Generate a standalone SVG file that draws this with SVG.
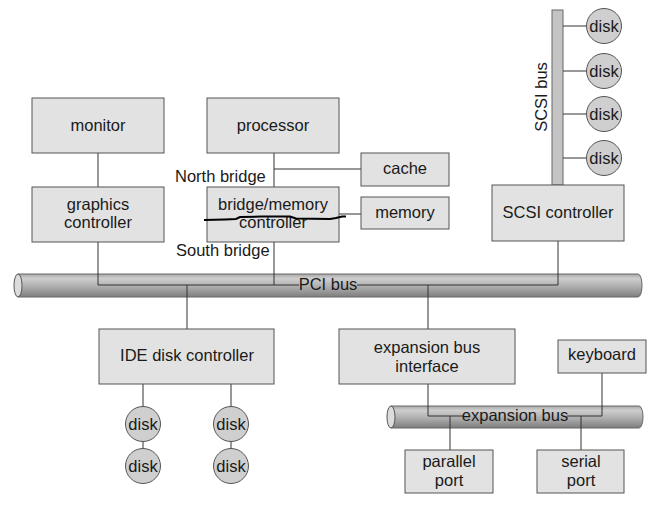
<svg xmlns="http://www.w3.org/2000/svg" width="664" height="508" viewBox="0 0 664 508">
<defs>
<linearGradient id="busg" x1="0" y1="0" x2="0" y2="1">
<stop offset="0" stop-color="#a8a8a8"/>
<stop offset="0.2" stop-color="#cecece"/>
<stop offset="0.6" stop-color="#a9a9a9"/>
<stop offset="1" stop-color="#7e7e7e"/>
</linearGradient>
<style>
.box{fill:#e2e2e2;stroke:#555;stroke-width:1}
.disk{fill:#cfcfcf;stroke:#555;stroke-width:1}
.t{font-family:"Liberation Sans",Arial,sans-serif;font-size:16.5px;fill:#1a1a1a;text-anchor:middle}
.tl{font-family:"Liberation Sans",Arial,sans-serif;font-size:16.5px;fill:#1a1a1a}
.ln{fill:none;stroke:#333;stroke-width:1}
.bus{fill:url(#busg);stroke:#666;stroke-width:1}
.busend{fill:#dcdcdc;stroke:#555;stroke-width:1}
</style>
</defs>
<rect width="664" height="508" fill="#fff"/>

<g id="pci-bus">
<path class="bus" d="M18,274 H638 A4,11.5 0 0 1 638,297 H18 Z"/>
<ellipse class="busend" cx="18" cy="285.5" rx="4" ry="11.5"/>
</g>
<g id="expansion-bus">
<path class="bus" d="M391,406 H639 A4,11 0 0 1 639,428 H391 Z"/>
<ellipse class="busend" cx="391" cy="417" rx="4" ry="11"/>
</g>
<g id="scsi-bus">
<rect x="552" y="10" width="11" height="175" fill="#c4c4c4" stroke="#666" stroke-width="1"/>
<text class="t" transform="translate(547,97) rotate(-90)">SCSI bus</text>
</g>

<g id="connectors">
<path class="ln" d="M98,153 V187"/>
<path class="ln" d="M274,153 V187"/>
<path class="ln" d="M274,169 H361"/>
<path class="ln" d="M339,214 H361"/>
<path class="ln" d="M98,242 V285 H299"/>
<path class="ln" d="M357,285 H558 V241"/>
<path class="ln" d="M274,242 V285"/>
<path class="ln" d="M187,285 V329"/>
<path class="ln" d="M428,285 V329"/>
<path class="ln" d="M563,26 H587 M563,71 H587 M563,114 H587 M563,158 H587"/>
<path class="ln" d="M143,384 V407 M143,441 V449 M231,384 V407 M231,441 V449"/>
<path class="ln" d="M428,384 V416 H463"/>
<path class="ln" d="M567,416 H602 V373"/>
<path class="ln" d="M450,416 V450"/>
<path class="ln" d="M581,416 V450"/>
</g>

<g id="monitor"><rect class="box" x="32" y="98" width="132" height="55"/><text class="t" x="98" y="131">monitor</text></g>
<g id="processor"><rect class="box" x="207" y="98" width="132" height="55"/><text class="t" x="273" y="131">processor</text></g>
<g id="cache"><rect class="box" x="361" y="153" width="88" height="33"/><text class="t" x="405" y="174">cache</text></g>
<g id="graphics-controller"><rect class="box" x="32" y="187" width="132" height="55"/><text class="t" x="98" y="210">graphics</text><text class="t" x="98" y="228">controller</text></g>
<g id="bridge-memory-controller"><rect class="box" x="207" y="187" width="132" height="55"/><text class="t" x="273" y="210">bridge/memory</text><text class="t" x="273" y="228">controller</text>
<path d="M204,220 L225,219.5 L236,219 L240,217 L262,216.5 L290,216.5 L296,218.5 L330,219 L336,218 L342,216.5 L346,216.5" fill="none" stroke="#000" stroke-width="2"/></g>
<g id="memory"><rect class="box" x="361" y="197" width="88" height="32"/><text class="t" x="405" y="218">memory</text></g>
<g id="north-bridge-label"><text class="tl" x="175" y="182">North bridge</text></g>
<g id="south-bridge-label"><text class="tl" x="176" y="256">South bridge</text></g>
<g id="scsi-controller"><rect class="box" x="492" y="185" width="132" height="56"/><text class="t" x="558" y="218">SCSI controller</text></g>
<g id="scsi-disks">
<circle class="disk" cx="604" cy="26" r="17.5"/><text class="t" x="604" y="31.5">disk</text>
<circle class="disk" cx="604" cy="71" r="17.5"/><text class="t" x="604" y="76.5">disk</text>
<circle class="disk" cx="604" cy="114" r="17.5"/><text class="t" x="604" y="119.5">disk</text>
<circle class="disk" cx="604" cy="158" r="17.5"/><text class="t" x="604" y="163.5">disk</text>
</g>
<g id="pci-label"><text class="t" x="328" y="290">PCI bus</text></g>
<g id="ide-disk-controller"><rect class="box" x="99" y="329" width="175" height="55"/><text class="t" x="187" y="361">IDE disk controller</text></g>
<g id="ide-disks">
<circle class="disk" cx="143" cy="424" r="17.5"/><text class="t" x="143" y="429.5">disk</text>
<circle class="disk" cx="143" cy="466" r="17.5"/><text class="t" x="143" y="471.5">disk</text>
<circle class="disk" cx="231" cy="424" r="17.5"/><text class="t" x="231" y="429.5">disk</text>
<circle class="disk" cx="231" cy="466" r="17.5"/><text class="t" x="231" y="471.5">disk</text>
</g>
<g id="expansion-bus-interface"><rect class="box" x="339" y="329" width="176" height="55"/><text class="t" x="427" y="353">expansion bus</text><text class="t" x="427" y="372">interface</text></g>
<g id="keyboard"><rect class="box" x="558" y="340" width="88" height="33"/><text class="t" x="602" y="360">keyboard</text></g>
<g id="expansion-label"><text class="t" x="515" y="421">expansion bus</text></g>
<g id="parallel-port"><rect class="box" x="405" y="450" width="88" height="43"/><text class="t" x="449" y="467">parallel</text><text class="t" x="449" y="486">port</text></g>
<g id="serial-port"><rect class="box" x="537" y="450" width="87" height="43"/><text class="t" x="581" y="467">serial</text><text class="t" x="581" y="486">port</text></g>
</svg>
